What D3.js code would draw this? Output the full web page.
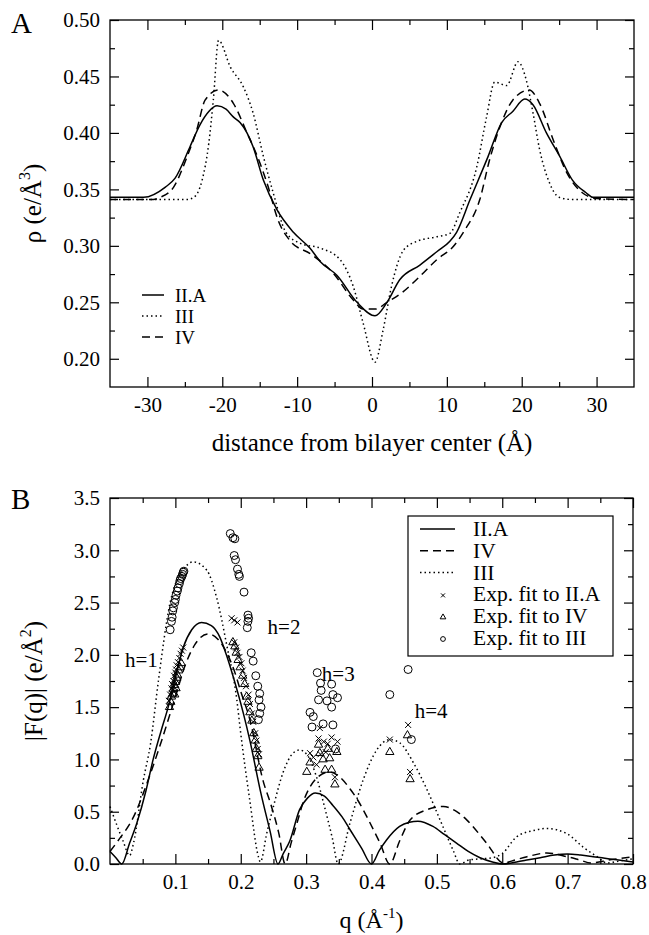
<!DOCTYPE html>
<html>
<head>
<meta charset="utf-8">
<script src="https://cdn.jsdelivr.net/npm/d3@7"></script>
<style>
  body { margin: 0; background: #fff; }
  svg text { font-family: "Liberation Serif", "Times New Roman", serif; fill: #000; }
</style>
</head>
<body>
<svg id="chart" width="649" height="935" font-family="Liberation Serif"></svg>
<script>
// ---- panel A : electron density profiles [distance (A), rho]
const rhoIIA = [[-35,0.343],[-30.5,0.343],[-27.6,0.352],[-26.3,0.360],[-24.3,0.388],[-23,0.407],[-21.8,0.419],[-20.7,0.424],[-19.5,0.421],[-18.5,0.414],[-17.6,0.409],[-16.7,0.400],[-15.9,0.388],[-14.5,0.358],[-12.7,0.332],[-10.5,0.312],[-8.3,0.298],[-6.9,0.286],[-4.7,0.274],[-2,0.250],[0.4,0.238],[2,0.250],[3.7,0.270],[6.4,0.283],[8.7,0.295],[10.4,0.304],[11.3,0.312],[13.1,0.341],[15.5,0.379],[17.3,0.409],[18.8,0.419],[20.4,0.430],[21.5,0.425],[23.3,0.400],[25.1,0.379],[26.8,0.358],[28.6,0.347],[29.5,0.343],[35,0.343]];
const rhoIII = [[-35,0.341],[-24.7,0.341],[-23.8,0.343],[-22.7,0.358],[-21.8,0.391],[-21.2,0.429],[-20.5,0.482],[-18.9,0.458],[-17.2,0.441],[-15.9,0.418],[-14.5,0.379],[-13.2,0.347],[-11.5,0.312],[-9.5,0.302],[-6.9,0.298],[-4.3,0.288],[-2.5,0.264],[-1.2,0.232],[0.4,0.197],[1.5,0.226],[2.6,0.264],[4.2,0.296],[6,0.304],[8.6,0.308],[10.4,0.311],[11.7,0.329],[14,0.370],[15.3,0.414],[16.4,0.445],[18,0.442],[19.5,0.463],[20.6,0.447],[21.5,0.418],[22.4,0.385],[23.7,0.356],[25,0.343],[26.8,0.341],[35,0.341]];
const rhoIV = [[-35,0.341],[-29.2,0.341],[-28.3,0.343],[-26.5,0.352],[-24.7,0.379],[-23.4,0.403],[-22.3,0.429],[-20.5,0.438],[-18.5,0.426],[-16.7,0.400],[-15.3,0.379],[-14,0.355],[-12.5,0.322],[-11,0.305],[-8,0.292],[-5.2,0.276],[-2.5,0.252],[-1.2,0.244],[0.5,0.244],[2,0.250],[4.1,0.259],[6.4,0.273],[8.7,0.288],[10.8,0.299],[12.4,0.314],[14.4,0.341],[15.7,0.376],[17.3,0.409],[18.8,0.429],[21,0.438],[22.4,0.426],[24.2,0.394],[26,0.365],[28.1,0.347],[30,0.342],[35,0.341]];
const aXTicks = [-30,-20,-10,0,10,20,30];
const aXMinor = [-25,-15,-5,5,15,25];
const aYTicks = [0.20,0.25,0.30,0.35,0.40,0.45,0.50];
const aYMinor = [0.225,0.275,0.325,0.375,0.425,0.475];
const aLegend = ["II.A","III","IV"];

// ---- panel B : form factors [q, |F(q)|]
const fIIA = [[0,0.12],[0.009,0.06],[0.018,0],[0.03,0.2],[0.041,0.39],[0.055,0.7],[0.066,1.0],[0.078,1.27],[0.089,1.5],[0.1,1.78],[0.112,2.07],[0.125,2.24],[0.14,2.31],[0.155,2.28],[0.168,2.17],[0.178,2.0],[0.188,1.8],[0.204,1.44],[0.214,1.18],[0.23,0.7],[0.245,0.31],[0.257,0],[0.265,0.1],[0.275,0.22],[0.29,0.52],[0.302,0.63],[0.314,0.68],[0.328,0.65],[0.341,0.56],[0.355,0.45],[0.367,0.33],[0.385,0.15],[0.4,0],[0.412,0.13],[0.423,0.23],[0.443,0.36],[0.458,0.4],[0.471,0.41],[0.494,0.36],[0.512,0.28],[0.53,0.2],[0.548,0.12],[0.566,0.06],[0.585,0.02],[0.6,0],[0.622,0.02],[0.64,0.04],[0.658,0.06],[0.68,0.085],[0.7,0.095],[0.72,0.085],[0.739,0.07],[0.757,0.055],[0.775,0.04],[0.8,0.02]];
const fIV = [[0,0.12],[0.012,0.22],[0.036,0.45],[0.061,0.85],[0.08,1.2],[0.1,1.6],[0.115,1.9],[0.13,2.1],[0.15,2.2],[0.165,2.15],[0.176,2.05],[0.19,1.85],[0.2,1.65],[0.214,1.38],[0.234,0.8],[0.247,0.55],[0.258,0.3],[0.268,0],[0.277,0.2],[0.286,0.39],[0.296,0.6],[0.316,0.82],[0.335,0.88],[0.35,0.84],[0.367,0.72],[0.38,0.6],[0.393,0.45],[0.413,0.2],[0.428,0],[0.443,0.22],[0.459,0.42],[0.485,0.52],[0.51,0.55],[0.528,0.51],[0.546,0.42],[0.576,0.2],[0.602,0.01],[0.62,0.04],[0.638,0.07],[0.668,0.105],[0.699,0.07],[0.72,0.035],[0.735,0.01],[0.765,0.04],[0.8,0.07]];
const fIII = [[0,0.55],[0.01,0.38],[0.02,0.22],[0.03,0.08],[0.036,0.2],[0.051,0.8],[0.062,1.15],[0.074,1.75],[0.092,2.5],[0.112,2.81],[0.127,2.89],[0.148,2.81],[0.163,2.55],[0.179,2.08],[0.194,1.57],[0.199,1.3],[0.214,0.6],[0.227,0.07],[0.23,0.02],[0.24,0.3],[0.25,0.55],[0.265,0.88],[0.28,1.06],[0.29,1.09],[0.302,1.04],[0.315,0.85],[0.328,0.55],[0.34,0.25],[0.349,0],[0.367,0.39],[0.387,0.8],[0.408,1.09],[0.428,1.19],[0.443,1.16],[0.464,0.97],[0.485,0.71],[0.505,0.42],[0.525,0.13],[0.535,0],[0.55,0.04],[0.57,0.05],[0.585,0.06],[0.6,0.1],[0.622,0.26],[0.648,0.32],[0.668,0.34],[0.699,0.29],[0.724,0.16],[0.745,0.07],[0.76,0.01],[0.78,0.03],[0.8,0.05]];

// experimental fits, one point per sample
const expIIA = [[0.090,1.56],[0.092,1.62],[0.094,1.68],[0.095,1.72],[0.097,1.75],[0.098,1.80],[0.100,1.83],[0.101,1.86],[0.102,1.90],[0.104,1.93],[0.106,1.97],[0.108,2.01],[0.110,2.04],[0.112,2.07],[0.096,1.66],[0.099,1.72],
  [0.186,2.35],[0.190,2.33],[0.195,2.31],[0.190,2.12],[0.193,2.07],[0.195,2.02],[0.198,1.98],[0.201,1.92],[0.203,1.85],[0.205,1.78],[0.208,1.70],[0.212,1.62],[0.214,1.53],[0.217,1.44],[0.219,1.36],[0.222,1.25],[0.224,1.18],[0.226,1.10],[0.228,1.05],
  [0.321,1.30],[0.319,1.20],[0.327,1.17],[0.333,1.15],[0.339,1.21],[0.348,1.17],[0.306,1.06],[0.311,1.02],[0.322,1.05],[0.330,1.07],[0.316,0.95],[0.344,0.83],
  [0.428,1.19],[0.456,1.33],[0.459,0.88]];
const expIV = [[0.091,1.50],[0.093,1.55],[0.094,1.60],[0.096,1.63],[0.097,1.67],[0.099,1.71],[0.100,1.74],[0.102,1.78],[0.103,1.81],[0.105,1.85],[0.107,1.88],[0.109,1.92],[0.099,1.62],[0.101,1.68],
  [0.188,2.12],[0.191,2.08],[0.193,2.02],[0.196,1.95],[0.199,1.88],[0.203,1.80],[0.206,1.72],[0.209,1.60],[0.211,1.55],[0.214,1.45],[0.217,1.37],[0.220,1.25],[0.222,1.18],[0.224,1.10],[0.226,1.03],[0.228,0.92],
  [0.301,0.88],[0.306,0.97],[0.319,1.14],[0.321,1.06],[0.329,0.90],[0.339,0.90],[0.336,1.01],[0.333,1.10],[0.347,1.07],[0.326,1.00],[0.344,0.76],
  [0.428,1.07],[0.455,1.23],[0.459,0.81]];
const expIII = [[0.092,2.24],[0.094,2.32],[0.095,2.36],[0.096,2.42],[0.097,2.45],[0.099,2.50],[0.100,2.53],[0.101,2.57],[0.103,2.61],[0.104,2.64],[0.106,2.68],[0.107,2.71],[0.108,2.73],[0.110,2.75],[0.111,2.77],[0.112,2.79],[0.113,2.80],
  [0.184,3.16],[0.188,3.12],[0.191,3.11],[0.190,2.95],[0.192,2.91],[0.195,2.82],[0.197,2.77],[0.198,2.75],[0.205,2.60],[0.211,2.38],[0.212,2.35],[0.211,2.32],[0.210,2.26],[0.216,2.02],[0.219,1.94],[0.223,1.80],[0.226,1.70],[0.229,1.63],[0.228,1.57],[0.231,1.50],[0.229,1.44],[0.227,1.38],
  [0.317,1.83],[0.322,1.73],[0.339,1.72],[0.323,1.66],[0.319,1.57],[0.332,1.56],[0.341,1.62],[0.348,1.59],[0.339,1.50],[0.306,1.45],[0.311,1.41],[0.309,1.31],[0.326,1.34],[0.341,1.33],[0.345,1.10],
  [0.428,1.62],[0.456,1.86],[0.461,1.19]];
const bXTicks = [0.1,0.2,0.3,0.4,0.5,0.6,0.7,0.8];
const bXMinor = [0.05,0.15,0.25,0.35,0.45,0.55,0.65,0.75];
const bYTicks = [0,0.5,1.0,1.5,2.0,2.5,3.0,3.5];
const bYMinor = [0.25,0.75,1.25,1.75,2.25,2.75,3.25];
const bLegend = ["II.A","IV","III","Exp. fit to II.A","Exp. fit to IV","Exp. fit to III"];
const hLabels = ["h=1","h=2","h=3","h=4"];
const hAt = [[0.023,1.88],[0.241,2.2],[0.324,1.75],[0.466,1.40]];

let svg;
let draw;

document.addEventListener("DOMContentLoaded", (event) => {
  svg = d3.select("#chart");
  draw = new Draw();
  draw.panelA();
  draw.panelB();
});

class Draw {
  frame(g, x, y, xt, xm, yt, ym, xfmt, yfmt) {
    const [x0, x1] = x.range();
    const [y0, y1] = y.range();
    const sets = [
      [d3.axisBottom(x).tickValues(xt).tickSize(-10).tickPadding(10).tickFormat(xfmt), y0, 0],
      [d3.axisBottom(x).tickValues(xm).tickSize(-5).tickFormat(""), y0, 0],
      [d3.axisTop(x).tickValues(xt).tickSize(-10).tickFormat(""), y1, 0],
      [d3.axisTop(x).tickValues(xm).tickSize(-5).tickFormat(""), y1, 0],
      [d3.axisLeft(y).tickValues(yt).tickSize(-9).tickPadding(10).tickFormat(yfmt), 0, x0],
      [d3.axisLeft(y).tickValues(ym).tickSize(-5).tickFormat(""), 0, x0],
      [d3.axisRight(y).tickValues(yt).tickSize(-9).tickFormat(""), 0, x1],
      [d3.axisRight(y).tickValues(ym).tickSize(-5).tickFormat(""), 0, x1]
    ];
    sets.forEach(s => {
      const a = g.append("g")
        .attr("transform", "translate(" + s[2] + "," + s[1] + ")")
        .call(s[0]);
      a.select(".domain").remove();
      a.selectAll("line").attr("stroke", "#000").attr("stroke-width", 1.2);
      a.attr("font-size", 21).attr("font-family", "Liberation Serif");
    });
    g.append("rect")
      .attr("x", x0).attr("y", y1)
      .attr("width", x1 - x0).attr("height", y0 - y1)
      .attr("fill", "none").attr("stroke", "#000").attr("stroke-width", 1.3);
  }

  panelA() {
    const x = d3.scaleLinear().domain([-35, 35]).range([110, 634]);
    const y = d3.scaleLinear().domain([0.175, 0.50]).range([387, 20]);
    const g = svg.append("g");
    this.frame(g, x, y, aXTicks, aXMinor, aYTicks, aYMinor, d => String(d), d3.format(".2f"));

    const line = d3.line().x(d => x(d[0])).y(d => y(d[1])).curve(d3.curveMonotoneX);
    const series = [[rhoIIA, null], [rhoIII, "1.5,3"], [rhoIV, "8,5"]];
    series.forEach(s => {
      g.append("path").datum(s[0])
        .attr("d", line)
        .attr("fill", "none").attr("stroke", "#000").attr("stroke-width", 1.5)
        .attr("stroke-dasharray", s[1]);
    });

    // legend
    aLegend.forEach((t, i) => {
      const yy = 295 + i * 21;
      g.append("line").attr("x1", 142).attr("x2", 164).attr("y1", yy).attr("y2", yy)
        .attr("stroke", "#000").attr("stroke-width", 1.5)
        .attr("stroke-dasharray", series[i][1]);
      g.append("text").attr("x", 175).attr("y", yy + 7).attr("font-size", 19).text(t);
    });

    g.append("text").attr("x", 11).attr("y", 33).attr("font-size", 29).text("A");
    g.append("text").attr("x", x(0)).attr("y", 451).attr("font-size", 25)
      .attr("text-anchor", "middle").text("distance from bilayer center (Å)");
    const yl = g.append("text").attr("transform", "translate(41," + ((y.range()[0] + y.range()[1]) / 2) + ") rotate(-90)")
      .attr("text-anchor", "middle").attr("font-size", 25);
    yl.append("tspan").text("ρ (e/Å");
    yl.append("tspan").attr("font-size", 16).attr("dy", -11).text("3");
    yl.append("tspan").attr("dy", 11).text(")");
  }

  crossPath(h) {
    return "M" + (-h) + "," + (-h) + "L" + h + "," + h + "M" + (-h) + "," + h + "L" + h + "," + (-h);
  }

  panelB() {
    const x = d3.scaleLinear().domain([0, 0.8]).range([110, 633]);
    const y = d3.scaleLinear().domain([0, 3.5]).range([864, 498]);
    const g = svg.append("g");
    this.frame(g, x, y, bXTicks, bXMinor, bYTicks, bYMinor, d3.format(".1f"), d3.format(".1f"));

    const line = d3.line().x(d => x(d[0])).y(d => y(d[1])).curve(d3.curveMonotoneX);
    const series = [[fIIA, null], [fIV, "8,5"], [fIII, "1.5,3"]];
    series.forEach(s => {
      g.append("path").datum(s[0])
        .attr("d", line)
        .attr("fill", "none").attr("stroke", "#000").attr("stroke-width", 1.5)
        .attr("stroke-dasharray", s[1]);
    });

    const tri = d3.symbol().type(d3.symbolTriangle).size(30);
    const circ = d3.symbol().type(d3.symbolCircle).size(50);
    g.append("g").selectAll("path").data(expIII).join("path")
      .attr("transform", d => "translate(" + x(d[0]) + "," + y(d[1]) + ")")
      .attr("d", circ).attr("fill", "none").attr("stroke", "#000").attr("stroke-width", 1);
    g.append("g").selectAll("path").data(expIV).join("path")
      .attr("transform", d => "translate(" + x(d[0]) + "," + y(d[1]) + ")")
      .attr("d", tri).attr("fill", "none").attr("stroke", "#000").attr("stroke-width", 1);
    g.append("g").selectAll("path").data(expIIA).join("path")
      .attr("transform", d => "translate(" + x(d[0]) + "," + y(d[1]) + ")")
      .attr("d", this.crossPath(3)).attr("fill", "none").attr("stroke", "#000").attr("stroke-width", 1);

    hLabels.forEach((t, i) => {
      g.append("text").attr("x", x(hAt[i][0])).attr("y", y(hAt[i][1]))
        .attr("font-size", 21).text(t);
    });

    // legend box
    const lg = g.append("g").attr("transform", "translate(408,516)");
    lg.append("rect").attr("width", 205).attr("height", 140)
      .attr("fill", "#fff").attr("stroke", "#000").attr("stroke-width", 1.2);
    bLegend.forEach((t, i) => {
      const yy = 20 + i * 21.8;
      if (i < 3) {
        lg.append("line").attr("x1", 12).attr("x2", 47).attr("y1", yy - 7).attr("y2", yy - 7)
          .attr("stroke", "#000").attr("stroke-width", 1.5)
          .attr("stroke-dasharray", series[i][1]);
      } else {
        const sym = lg.append("path").attr("transform", "translate(35," + (yy - 6) + ")")
          .attr("fill", "none").attr("stroke", "#000").attr("stroke-width", 1);
        if (i == 3) sym.attr("d", this.crossPath(2));
        if (i == 4) sym.attr("d", d3.symbol().type(d3.symbolTriangle).size(14));
        if (i == 5) sym.attr("d", d3.symbol().type(d3.symbolCircle).size(18));
      }
      lg.append("text").attr("x", 65).attr("y", yy).attr("font-size", 21.5).text(t);
    });

    g.append("text").attr("x", 11).attr("y", 509).attr("font-size", 29).text("B");
    const xl = g.append("text").attr("x", x(0.4)).attr("y", 928)
      .attr("text-anchor", "middle").attr("font-size", 24);
    xl.append("tspan").text("q (Å");
    xl.append("tspan").attr("font-size", 15).attr("dy", -10).text("-1");
    xl.append("tspan").attr("dy", 10).text(")");
    const yl = g.append("text").attr("transform", "translate(42," + ((y.range()[0] + y.range()[1]) / 2) + ") rotate(-90)")
      .attr("text-anchor", "middle").attr("font-size", 25);
    yl.append("tspan").text("|F(q)| (e/Å");
    yl.append("tspan").attr("font-size", 16).attr("dy", -11).text("2");
    yl.append("tspan").attr("dy", 11).text(")");
  }
}
</script>
</body>
</html>
